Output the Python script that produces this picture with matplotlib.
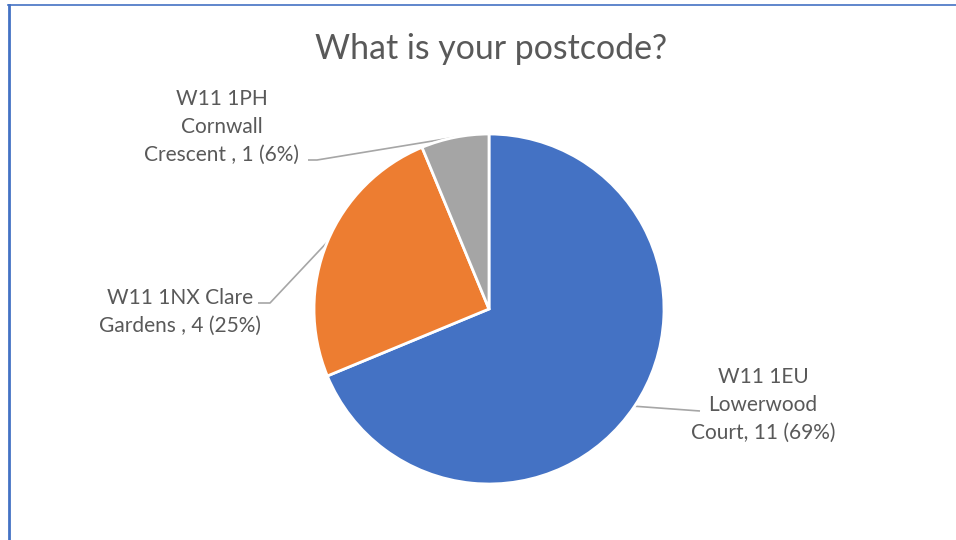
import numpy as np
import matplotlib
matplotlib.use("Agg")
import matplotlib.pyplot as plt
from matplotlib.lines import Line2D

# survey answers
postcodes = ["W11 1EU\nLowerwood\nCourt", "W11 1NX Clare\nGardens ", "W11 1PH\nCornwall\nCrescent "]
counts = [11, 4, 1]
colors = ["#4472C4", "#ED7D31", "#A5A5A5"]

W, H = 956, 540
TEXT = "#595959"
LEADER = "#A6A6A6"

plt.rcParams["font.family"] = ["Lato", "DejaVu Sans"]

fig = plt.figure(figsize=(W / 100, H / 100), dpi=100)
ax = fig.add_axes([0, 0, 1, 1])

cx, cy, r = 489, H - 309, 175
wedges, _ = ax.pie(counts, colors=colors, startangle=90, counterclock=False,
                   center=(cx, cy), radius=r, frame=True,
                   wedgeprops=dict(edgecolor="white", linewidth=2))
ax.set_xlim(0, W)
ax.set_ylim(0, H)
ax.set_aspect("equal")
ax.axis("off")

total = sum(counts)
# label anchor (text centre) and elbow points for the leader lines
label_pos = [(763, H - 405), (180, H - 312), (222, H - 127)]
elbows = [[(700, H - 411)], [(270, H - 303), (258, H - 303)], [(317, H - 160), (308, H - 160)]]

for w, name, n, (lx, ly), elb in zip(wedges, postcodes, counts, label_pos, elbows):
    txt = f"{name}, {n} ({round(100 * n / total)}%)"
    ax.text(lx, ly, txt, ha="center", va="center", fontsize=15,
            color=TEXT, linespacing=1.5)
    mid = np.deg2rad((w.theta1 + w.theta2) / 2)
    px, py = cx + r * np.cos(mid), cy + r * np.sin(mid)
    xs = [px] + [e[0] for e in elb]
    ys = [py] + [e[1] for e in elb]
    ax.plot(xs, ys, color=LEADER, lw=1.2, solid_capstyle="butt", zorder=0)

fig.text(491 / W, 1 - 49 / H, "What is your postcode?", ha="center", va="center",
         fontsize=24.4, color=TEXT)

# chart frame, only the top and left edges are visible
fig.add_artist(Line2D([8 / W, 1], [1 - 5 / H, 1 - 5 / H], color="#4472C4", lw=1.2,
                      transform=fig.transFigure))
fig.add_artist(Line2D([9 / W, 9 / W], [0, 1 - 5 / H], color="#4472C4", lw=2,
                      transform=fig.transFigure))

fig.savefig("out.png", dpi=100, facecolor="white")
